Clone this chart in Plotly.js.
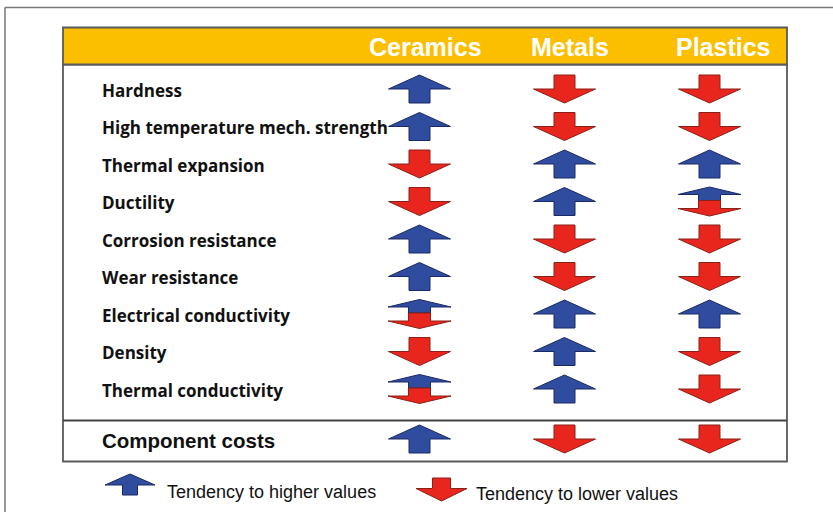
<!DOCTYPE html>
<html>
<head>
<meta charset="utf-8">
<script src="https://cdn.plot.ly/plotly-3.0.1.min.js"></script>
<style>html,body{margin:0;padding:0;background:#fff;}#chart{width:833px;height:512px;}</style>
</head>
<body>
<div id="chart"></div>
<script>
// ---- data ----
const categories = ["Ceramics", "Metals", "Plastics"];
const properties = [
  "Hardness",
  "High temperature mech. strength",
  "Thermal expansion",
  "Ductility",
  "Corrosion resistance",
  "Wear resistance",
  "Electrical conductivity",
  "Density",
  "Thermal conductivity"
];
// 1 = tendency to higher values, -1 = tendency to lower values, 0 = both
const ceramics = [1, 1, -1, -1, 1, 1, 0, -1, 0];
const metals   = [-1, -1, 1, 1, -1, -1, 1, 1, 1];
const plastics = [-1, -1, 1, 0, -1, -1, 1, -1, -1];
const costLabel = "Component costs";
const costTendency = [1, -1, -1];
const legendLabels = ["Tendency to higher values", "Tendency to lower values"];
const legendTendency = [1, -1];

// ---- layout helpers (pixel <-> axis units) ----
const X0 = 419.5, DX = 145, Y0 = 90, DY = 37.5;
const px2x = p => (p - X0) / DX;
const py2y = p => (p - Y0) / DY;
const BLUE = "#2f4c9f", BLUE_LINE = "#1b2a66";
const RED = "#e8261d", RED_LINE = "#8b2019";

const traces = [];
function poly(cx, cy, pts, fill, line) {
  const xs = pts.map(p => cx + p[0] / DX);
  const ys = pts.map(p => cy + p[1] / DY);
  xs.push(xs[0]); ys.push(ys[0]);
  traces.push({
    type: "scatter", mode: "lines", x: xs, y: ys, fill: "toself",
    fillcolor: fill, line: {color: line, width: 1}, hoverinfo: "skip", showlegend: false
  });
}
function arrow(cx, cy, dir, g) {
  g = g || {h: 28, hh: 14, hw: 31, sw: 10.5};
  const t = -g.h / 2, b = g.h / 2, hb = t + g.hh;
  if (dir === 0) {
    poly(cx, cy, [[0, -14.5], [31.5, -7], [11, -7], [11, -1], [-11, -1], [-11, -7], [-31.5, -7]], BLUE, BLUE_LINE);
    poly(cx, cy, [[-11, -1], [11, -1], [11, 7], [31.5, 7], [0, 14.5], [-31.5, 7], [-11, 7]], RED, RED_LINE);
    return;
  }
  let pts = [[0, t], [g.hw, hb], [g.sw, hb], [g.sw, b], [-g.sw, b], [-g.sw, hb], [-g.hw, hb]];
  if (dir < 0) pts = pts.map(p => [p[0], -p[1]]);
  poly(cx, cy, pts, dir > 0 ? BLUE : RED, dir > 0 ? BLUE_LINE : RED_LINE);
}

const columns = [ceramics, metals, plastics];
const arrowShift = -1 / DY;
columns.forEach((col, ci) => {
  col.forEach((v, ri) => arrow(ci, ri + arrowShift, v));
});
const costY = py2y(440);
costTendency.forEach((v, ci) => arrow(ci, costY + arrowShift, v));

// legend arrows
const legendPos = [[130, 484.5], [441.5, 489.5]];
const legendGeo = [{h: 21, hh: 11, hw: 25, sw: 7.5}, {h: 23, hh: 12.5, hw: 25.5, sw: 9}];
legendTendency.forEach((v, i) => arrow(px2x(legendPos[i][0]), py2y(legendPos[i][1]), v, legendGeo[i]));

// ---- annotations ----
const annotations = [];
properties.forEach((p, ri) => annotations.push({
  x: px2x(100), y: ri, xref: "x", yref: "y", text: "<b>" + p + "</b>", showarrow: false,
  xanchor: "left", yanchor: "middle", font: {family: "Open Sans, Noto Sans, sans-serif", size: 17, color: "#111"}
}));
annotations.push({
  x: px2x(100), y: costY, xref: "x", yref: "y", text: "<b>" + costLabel + "</b>", showarrow: false,
  xanchor: "left", yanchor: "middle", font: {family: "Liberation Sans, Arial, sans-serif", size: 20.5, color: "#111"}
});
const headerShift = [6, 5.5, 14];
categories.forEach((c, ci) => annotations.push({
  x: ci, y: py2y(47), xref: "x", yref: "y", xshift: headerShift[ci], text: "<b>" + c + "</b>", showarrow: false,
  xanchor: "center", yanchor: "middle", font: {family: "Liberation Sans, Arial, sans-serif", size: 25, color: "#ffffff"}
}));
const legendTextPos = [[165, 492], [474, 494]];
legendLabels.forEach((l, i) => annotations.push({
  x: px2x(legendTextPos[i][0]), y: py2y(legendTextPos[i][1]), xref: "x", yref: "y", text: l, showarrow: false,
  xanchor: "left", yanchor: "middle", font: {family: "Liberation Sans, Arial, sans-serif", size: 18, color: "#111"}
}));

// ---- shapes (frame / table) ----
const shapes = [
  {type: "line", xref: "x", yref: "y", x0: px2x(5), x1: px2x(833), y0: py2y(7.5), y1: py2y(7.5), line: {color: "#777", width: 1.5}},
  {type: "line", xref: "x", yref: "y", x0: px2x(5), x1: px2x(5), y0: py2y(7.5), y1: py2y(512), line: {color: "#777", width: 1.5}},
  {type: "rect", xref: "x", yref: "y", x0: px2x(63), x1: px2x(787), y0: py2y(64.5), y1: py2y(461.5), line: {color: "#5a5a5a", width: 1.8}, fillcolor: "rgba(0,0,0,0)", layer: "below"},
  {type: "rect", xref: "x", yref: "y", x0: px2x(63), x1: px2x(787), y0: py2y(27.5), y1: py2y(64.5), line: {color: "#5a5a5a", width: 1.8}, fillcolor: "#fbbf00", layer: "below"},
  {type: "line", xref: "x", yref: "y", x0: px2x(63), x1: px2x(787), y0: py2y(420.5), y1: py2y(420.5), line: {color: "#444", width: 2}}
];

const layout = {
  width: 833, height: 512,
  margin: {l: 0, r: 0, t: 0, b: 0},
  paper_bgcolor: "#fff", plot_bgcolor: "#fff",
  showlegend: false,
  xaxis: {range: [px2x(0), px2x(833)], visible: false, fixedrange: true},
  yaxis: {range: [py2y(512), py2y(0)], visible: false, fixedrange: true},
  shapes: shapes,
  annotations: annotations
};
Plotly.newPlot("chart", traces, layout, {displayModeBar: false, staticPlot: true});
</script>
</body>
</html>
